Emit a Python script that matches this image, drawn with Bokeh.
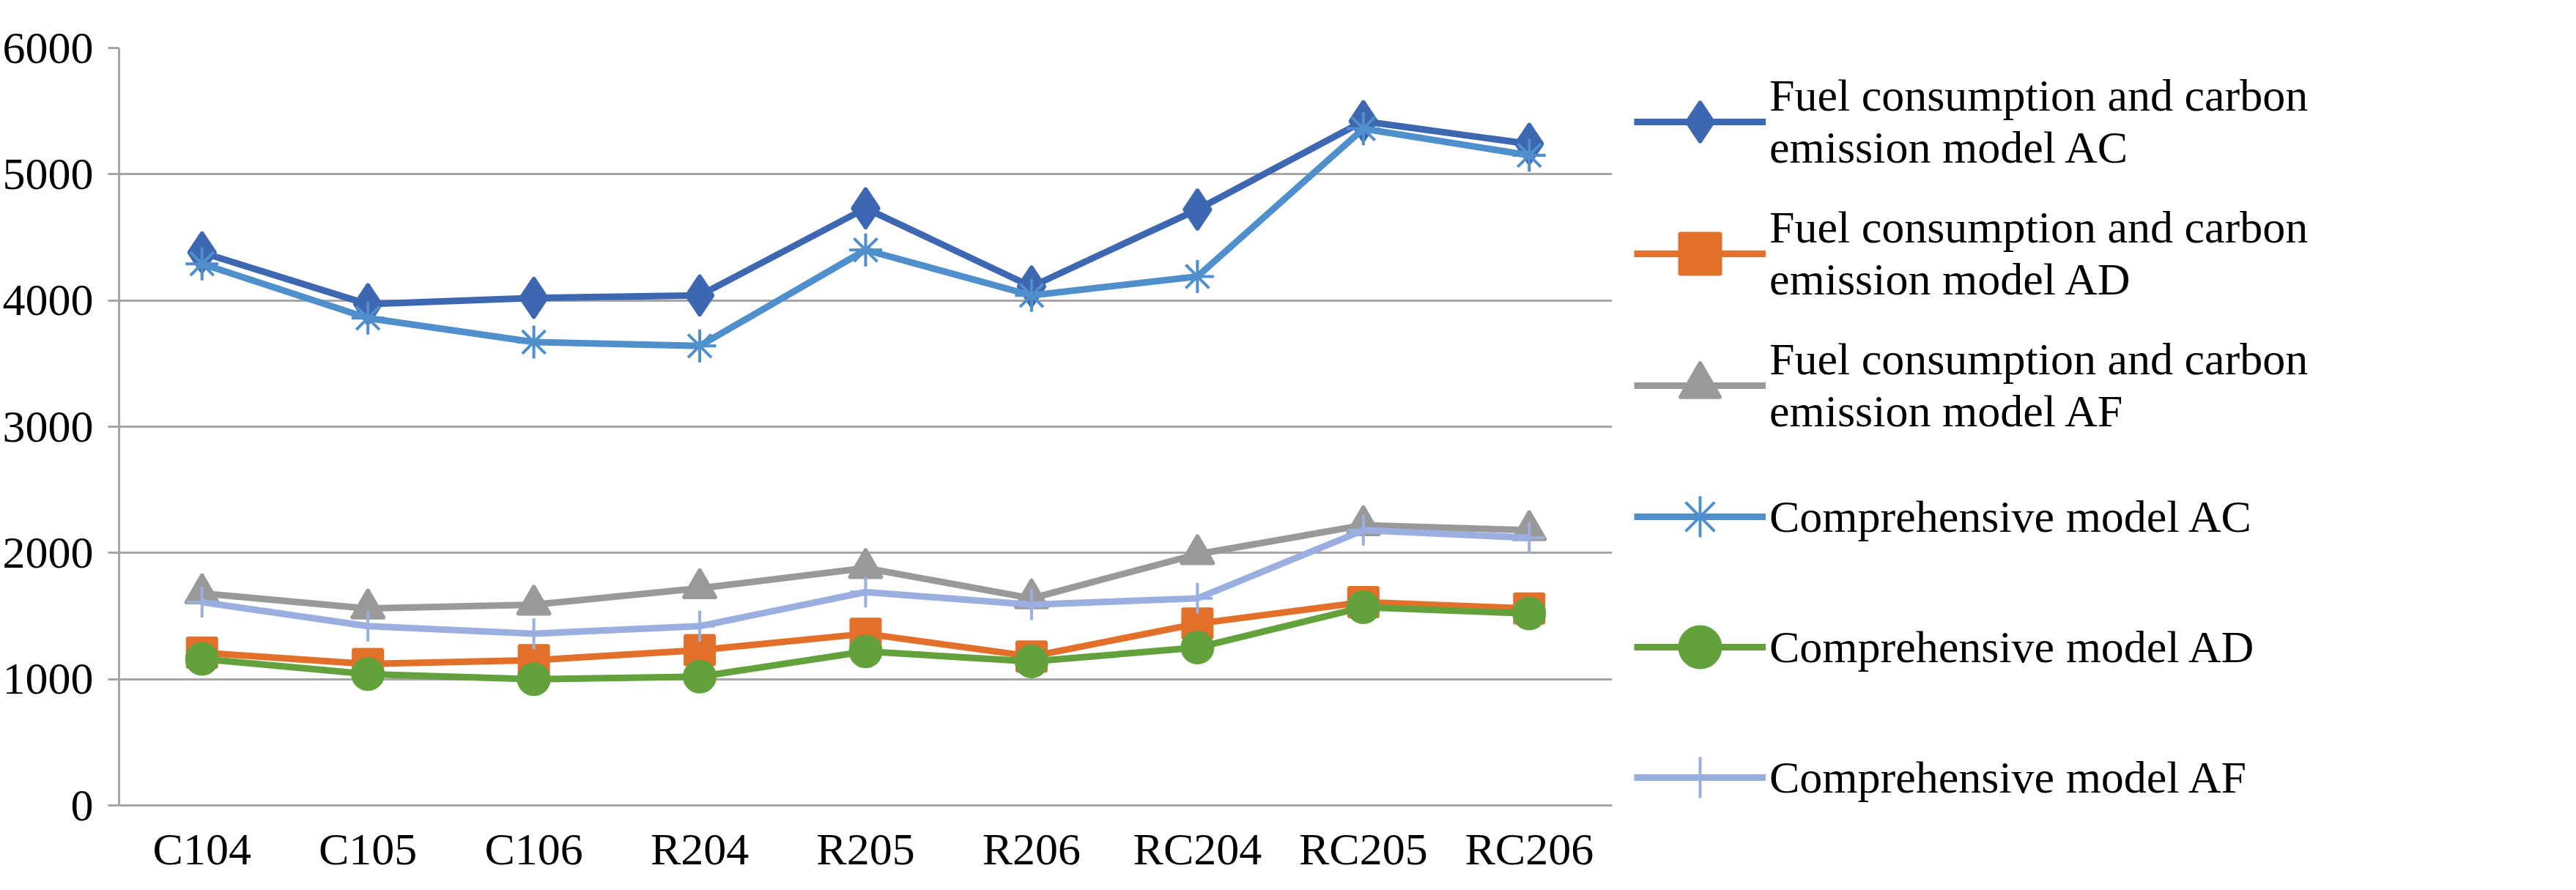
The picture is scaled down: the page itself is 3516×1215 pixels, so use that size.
from bokeh.plotting import figure
from bokeh.models import Legend, LegendItem, Range1d
from bokeh.embed import file_html
from bokeh.resources import INLINE

cats = ["C104","C105","C106","R204","R205","R206","RC204","RC205","RC206"]
fuel_ac = [4380,3970,4020,4040,4730,4110,4720,5420,5240]
fuel_ad = [1210,1120,1150,1230,1360,1180,1440,1610,1560]
fuel_af = [1680,1560,1590,1720,1880,1640,1990,2220,2180]
comp_ac = [4290,3860,3670,3640,4400,4040,4190,5360,5150]
comp_ad = [1160,1040,1000,1020,1220,1140,1250,1570,1520]
comp_af = [1610,1420,1360,1420,1690,1590,1640,2180,2120]
yticks = [0,1000,2000,3000,4000,5000,6000]

F = "Liberation Serif"
p = figure(x_range=cats, y_range=Range1d(0, 6000), width=3500, height=1195,
           output_backend="svg", toolbar_location=None,
           min_border_left=20, min_border_top=65, min_border_bottom=10)
p.outline_line_color = None
p.xgrid.grid_line_color = None
p.ygrid.grid_line_color = "#A6A6A6"
p.ygrid.grid_line_width = 3
p.yaxis.ticker = yticks
for ax in (p.xaxis, p.yaxis):
    ax.major_label_text_font = F
    ax.major_label_text_font_size = "62px"
    ax.major_label_text_color = "black"
    ax.axis_line_color = "#A6A6A6"
    ax.axis_line_width = 3
    ax.major_tick_line_color = "#A6A6A6"
    ax.major_tick_line_width = 3
    ax.minor_tick_line_color = None
p.yaxis.major_tick_out = 15
p.yaxis.major_tick_in = 0
p.yaxis.major_label_standoff = 20
p.xaxis.major_tick_out = 0
p.xaxis.major_tick_in = 0
p.xaxis.major_label_standoff = 25

series = [
    ("Fuel consumption and carbon\nemission model AC", fuel_ac, "#3E67B1", "diamond", 55),
    ("Fuel consumption and carbon\nemission model AD", fuel_ad, "#E2702B", "square", 40),
    ("Fuel consumption and carbon\nemission model AF", fuel_af, "#999999", "triangle", 45),
    ("Comprehensive model AC", comp_ac, "#4F8FCB", "asterisk", 45),
    ("Comprehensive model AD", comp_ad, "#62A13B", "circle", 42),
    ("Comprehensive model AF", comp_af, "#9AAEE0", "cross", 42),
]
items = []
for label, ys, col, mk, sz in series:
    l = p.line(cats, ys, line_color=col, line_width=9)
    s = p.scatter(cats, ys, marker=mk, size=sz, color=col, line_width=4)
    items.append(LegendItem(label=label, renderers=[l, s]))

leg = Legend(items=items, location="top_left", spacing=38)
leg.label_text_font = F
leg.label_text_font_size = "62px"
leg.label_text_color = "black"
leg.label_text_line_height = 1.2
leg.glyph_width = 180
leg.glyph_height = 140
leg.border_line_color = None
leg.margin = 30
leg.padding = 10
p.add_layout(leg, "right")

open("out.html", "w").write(file_html(p, INLINE))
